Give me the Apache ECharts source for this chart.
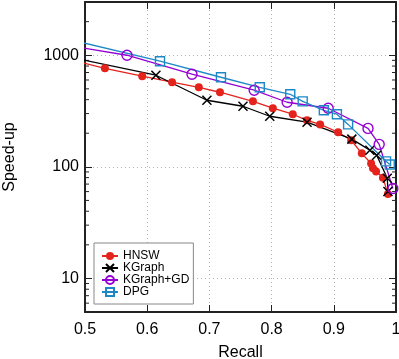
<!DOCTYPE html>
<html><head><meta charset="utf-8">
<script src="https://cdn.jsdelivr.net/npm/echarts@6/dist/echarts.min.js"></script>
<style>html,body{margin:0;padding:0;background:#fff}#c{width:399px;height:359px}</style>
</head><body><div id="c"></div>
<script>
// ---- data ----
const hnswRecall  = [0.45, 0.532, 0.592, 0.640, 0.683, 0.717, 0.770, 0.802, 0.834, 0.857, 0.878, 0.907, 0.928, 0.945, 0.960, 0.963, 0.968, 0.979, 0.987];
const hnswSpeedup = [990, 764, 649, 573, 516, 466, 386, 335, 296, 261, 240, 204, 173, 132, 107, 97, 91, 80, 57];

const kgraphRecall  = [0.45, 0.614, 0.696, 0.754, 0.797, 0.857, 0.929, 0.958, 0.969, 0.986, 0.987];
const kgraphSpeedup = [1031, 662, 395, 349, 284, 251, 177, 141, 127, 79, 60];

const kgdRecall  = [0.45, 0.5675, 0.672, 0.772, 0.825, 0.891, 0.955, 0.973, 0.995];
const kgdSpeedup = [1286, 1000, 676, 486, 379, 335, 221, 159, 64];

const dpgRecall  = [0.45, 0.6206, 0.7186, 0.781, 0.830, 0.850, 0.884, 0.905, 0.923, 0.984, 0.990];
const dpgSpeedup = [1493, 884, 635, 516, 447, 386, 321, 296, 240, 112, 105];

const xTickLabels = ['0.5', '0.6', '0.7', '0.8', '0.9', '1'];
const yMinorTicks = [6, 7, 8, 9, 20, 30, 40, 50, 60, 70, 80, 90, 200, 300, 400, 500, 600, 700, 800, 900, 2000];

const seriesNames = ['HNSW', 'KGraph', 'KGraph+GD', 'DPG'];

// ---- chart ----
const FONT = 'Liberation Sans, Arial, Helvetica, sans-serif';
const AX = '#222';
const X_MIN = 0.5, X_MAX = 1.0, Y_MIN = 5, Y_MAX = 3000;
const zip = (a, b) => a.map((v, i) => [v, b[i]]);
const isPow10 = v => Math.abs(Math.log10(v) - Math.round(Math.log10(v))) < 1e-6;

const chart = echarts.init(document.getElementById('c'), null, {renderer: 'canvas'});

const baseX = {
  type: 'value', min: X_MIN, max: X_MAX, interval: 0.1,
  axisLine: {show: true, onZero: false, lineStyle: {color: AX, width: 2}},
  axisTick: {show: true, inside: true, length: 7, lineStyle: {color: AX, width: 1}},
  minorTick: {show: false}
};
const baseY = {
  type: 'log', logBase: 10, min: Y_MIN, max: Y_MAX,
  axisLine: {show: true, onZero: false, lineStyle: {color: AX, width: 2}},
  axisTick: {show: true, inside: true, length: 7, lineStyle: {color: AX, width: 1}},
  minorTick: {show: false}
};

const crossPath = 'path://M0,0L10,10M10,0L0,10';

const option = {
  animation: false,
  backgroundColor: '#fff',
  textStyle: {fontFamily: FONT},
  grid: {left: 85, right: 3, top: 2, bottom: 47, containLabel: false, outerBoundsMode: 'none'},
  xAxis: [
    Object.assign({}, baseX, {
      position: 'bottom',
      name: 'Recall', nameLocation: 'middle', nameGap: 33,
      nameTextStyle: {fontSize: 16, color: '#000', fontFamily: FONT},
      axisLabel: {
        fontSize: 16, color: '#000', margin: 10, fontFamily: FONT,
        formatter: v => xTickLabels[Math.round((v - X_MIN) * 10)] || ''
      },
      splitLine: {show: true, lineStyle: {color: '#b0b0b0', type: [1, 3], width: 1}}
    }),
    Object.assign({}, baseX, {
      position: 'top',
      axisLabel: {show: false},
      splitLine: {show: false}
    })
  ],
  yAxis: [
    Object.assign({}, baseY, {
      position: 'left',
      name: 'Speed-up', nameLocation: 'middle', nameGap: 67,
      nameTextStyle: {fontSize: 16, color: '#000', fontFamily: FONT},
      axisLabel: {
        fontSize: 16, color: '#000', margin: 6, fontFamily: FONT,
        formatter: v => isPow10(v) ? String(Math.round(v)) : ''
      },
      splitLine: {show: true, lineStyle: {color: '#b0b0b0', type: [1, 3], width: 1}}
    }),
    Object.assign({}, baseY, {
      position: 'right',
      axisLabel: {show: false},
      splitLine: {show: false}
    })
  ],
  legend: {
    data: seriesNames,
    orient: 'vertical',
    left: 94, top: 243,
    padding: [7, 4, 6, 7],
    itemWidth: 16, itemHeight: 10, itemGap: 0,
    backgroundColor: '#fff',
    borderColor: '#888', borderWidth: 1, borderRadius: 0,
    textStyle: {fontSize: 12, lineHeight: 12, color: '#000', fontFamily: FONT, padding: [0, 0, 0, 0]},
    selectedMode: false
  },
  series: [
    {
      name: 'HNSW', type: 'line', data: zip(hnswRecall, hnswSpeedup),
      symbol: 'circle', symbolSize: 8, clip: true,
      itemStyle: {color: '#e5231d'},
      lineStyle: {color: '#e5231d', width: 1.3}
    },
    {
      name: 'KGraph', type: 'line', data: zip(kgraphRecall, kgraphSpeedup),
      symbol: crossPath, symbolSize: 9, clip: true,
      itemStyle: {color: '#000', borderColor: '#000', borderWidth: 1.5},
      lineStyle: {color: '#000', width: 1.3}
    },
    {
      name: 'KGraph+GD', type: 'line', data: zip(kgdRecall, kgdSpeedup),
      symbol: 'circle', symbolSize: 10, clip: true,
      itemStyle: {color: 'rgba(0,0,0,0)', borderColor: '#9400d3', borderWidth: 1.4},
      lineStyle: {color: '#9400d3', width: 1.3}
    },
    {
      name: 'DPG', type: 'line', data: zip(dpgRecall, dpgSpeedup),
      symbol: 'rect', symbolSize: 9, clip: true,
      itemStyle: {color: 'rgba(0,0,0,0)', borderColor: '#1e88c7', borderWidth: 1.4},
      lineStyle: {color: '#1e88c7', width: 1.3}
    },
    {
      name: 'minorTicks', type: 'custom', silent: true, z: 1,
      data: yMinorTicks.map(v => [X_MIN, v]),
      renderItem: function (params, api) {
        const v = api.value(1);
        const pL = api.coord([X_MIN, v]);
        const pR = api.coord([X_MAX, v]);
        const st = {stroke: AX, lineWidth: 1};
        return {
          type: 'group',
          children: [
            {type: 'line', shape: {x1: pL[0], y1: pL[1], x2: pL[0] + 4, y2: pL[1]}, style: st},
            {type: 'line', shape: {x1: pR[0], y1: pR[1], x2: pR[0] - 4, y2: pR[1]}, style: st}
          ]
        };
      }
    }
  ]
};
chart.setOption(option);
</script>
</body></html>
